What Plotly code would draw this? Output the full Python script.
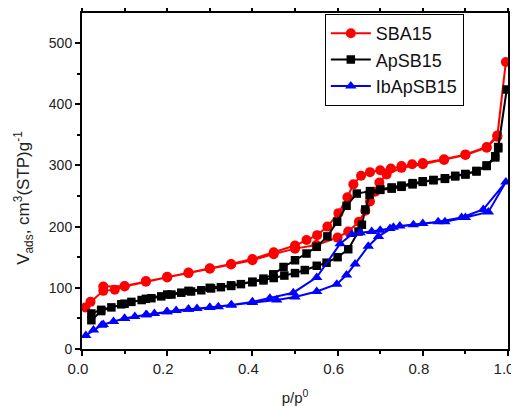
import plotly.graph_objects as go

# SBA15
sba_ads_x = [0.008,0.02,0.05,0.077,0.10,0.15,0.20,0.25,0.30,0.35,0.40,0.45,0.50,0.55,0.60,0.625,0.65,0.665,0.676,0.688,0.698,0.715,0.75,0.80,0.85,0.90,0.95,0.975,0.995]
sba_ads_y = [68,77,95,97,102,110,117,124,131,138,145,155,164,170,182,192,208,226,241,257,272,285,296,302,309,317,329,347,469]
sba_des_x = [0.975,0.95,0.90,0.85,0.80,0.775,0.75,0.725,0.70,0.676,0.655,0.637,0.623,0.602,0.576,0.552,0.527,0.50,0.45,0.40,0.35,0.30,0.25,0.20,0.15,0.10,0.05]
sba_des_y = [349,330,318,310,304,302,299,295,292,289,283,269,248,222,200,186,178,169,158,147,139,132,125,118,111,103,102]

# ApSB15
ap_ads_x = [0.022,0.045,0.069,0.092,0.116,0.14,0.163,0.186,0.21,0.233,0.256,0.28,0.303,0.326,0.35,0.373,0.40,0.426,0.45,0.475,0.50,0.523,0.551,0.574,0.60,0.625,0.649,0.657,0.665,0.675,0.70,0.727,0.75,0.776,0.80,0.825,0.852,0.876,0.90,0.926,0.95,0.97,0.977,0.997]
ap_ads_y = [47,62,68,73,77,80,83,86,89,92,94,96,99,101,103,106,109,112,116,120,124,129,136,141,150,163,192,203,228,252,260,262,265,269,273,276,278,282,285,290,299,313,328,424]
ap_des_x = [0.977,0.97,0.95,0.926,0.90,0.876,0.852,0.825,0.80,0.776,0.75,0.727,0.70,0.676,0.645,0.621,0.599,0.576,0.551,0.527,0.50,0.473,0.449,0.426,0.40,0.35,0.30,0.25,0.20,0.15,0.10,0.045,0.022]
ap_des_y = [330,315,300,291,286,283,279,276,274,271,267,264,261,258,254,234,208,184,167,156,145,134,122,115,110,104,100,95,89,82,74,64,58]

# IbApSB15
ib_ads_x = [0.009,0.027,0.046,0.074,0.10,0.124,0.152,0.17,0.199,0.221,0.25,0.27,0.30,0.32,0.351,0.40,0.457,0.50,0.551,0.598,0.621,0.641,0.672,0.696,0.731,0.778,0.836,0.891,0.942,0.995]
ib_ads_y = [22,31,39,45,50,53,56,58,61,63,65,66,68,69,72,76,80,85,94,106,121,139,168,184,199,203,208,215,228,273]
ib_des_x = [0.954,0.90,0.852,0.80,0.746,0.723,0.70,0.68,0.653,0.633,0.606,0.551,0.496,0.441,0.40,0.35,0.30,0.25,0.20,0.15,0.10,0.05]
ib_des_y = [224,215,208,205,201,197,194,192,190,187,172,117,92,83,77,72,68,65,61,56,50,40]

x_tick_vals = [0.0, 0.2, 0.4, 0.6, 0.8, 1.0]
x_tick_text = ["0.0", "0.2", "0.4", "0.6", "0.8", "1.0"]
y_tick_vals = [0, 100, 200, 300, 400, 500]
y_tick_text = ["0", "100", "200", "300", "400", "500"]

series_names = ["SBA15", "ApSB15", "IbApSB15"]
colors = ["#ff0000", "#000000", "#0000ff"]
symbols = ["circle", "square", "triangle-up"]
msizes = [10, 8.5, 10]

data = [
    (sba_ads_x + sba_des_x, sba_ads_y + sba_des_y),
    (ap_ads_x + ap_des_x, ap_ads_y + ap_des_y),
    (ib_ads_x + ib_des_x, ib_ads_y + ib_des_y),
]

fig = go.Figure()
for (xs, ys), name, c, s, ms in zip(data, series_names, colors, symbols, msizes):
    fig.add_trace(go.Scatter(
        x=xs, y=ys, name=name, mode="lines+markers",
        line=dict(color=c, width=2),
        marker=dict(color=c, symbol=s, size=ms),
    ))

FONT = "Liberation Sans, Arial"
axis_common = dict(
    showline=True, linecolor="black", linewidth=2,
    ticks="outside", ticklen=5, tickwidth=1.5, tickcolor="black",
    showgrid=False, zeroline=False, automargin=False,
)

fig.update_xaxes(
    range=[0, 1], tickmode="array", tickvals=x_tick_vals, ticktext=x_tick_text,
    mirror="allticks", ticklabelshift=-4,
    tickfont=dict(family=FONT, size=15, color="#222"),
    minor=dict(dtick=0.1, ticks="outside", ticklen=3, tickcolor="black"),
    title=dict(text="p/p<sup>0</sup>", font=dict(family=FONT, size=15, color="#222"), standoff=18),
    **axis_common,
)
fig.update_yaxes(
    range=[0, 549], tickmode="array", tickvals=y_tick_vals, ticktext=y_tick_text,
    mirror=True,
    tickfont=dict(family=FONT, size=14, color="#222"),
    minor=dict(dtick=50, ticks="outside", ticklen=3, tickcolor="black"),
    **axis_common,
)

fig.add_annotation(
    text="V<sub>ads</sub>, cm<sup>3</sup>(STP)g<sup>-1</sup>",
    xref="paper", yref="paper", x=-0.136, y=0.45,
    xanchor="center", yanchor="middle", textangle=-90, showarrow=False,
    font=dict(family=FONT, size=17, color="#222"),
)

# the page body has an 8px margin, so the figure is offset by (8, 8)
fig.update_layout(
    width=511, height=398,
    margin=dict(l=74, r=11, t=5, b=57),
    paper_bgcolor="white", plot_bgcolor="white",
    showlegend=True,
    legend=dict(
        x=0.57, y=0.997, xanchor="left", yanchor="top",
        bordercolor="black", borderwidth=1, bgcolor="white",
        font=dict(family=FONT, size=18, color="#111"),
        tracegroupgap=0, itemwidth=40,
    ),
)

fig.write_html("out.html")
